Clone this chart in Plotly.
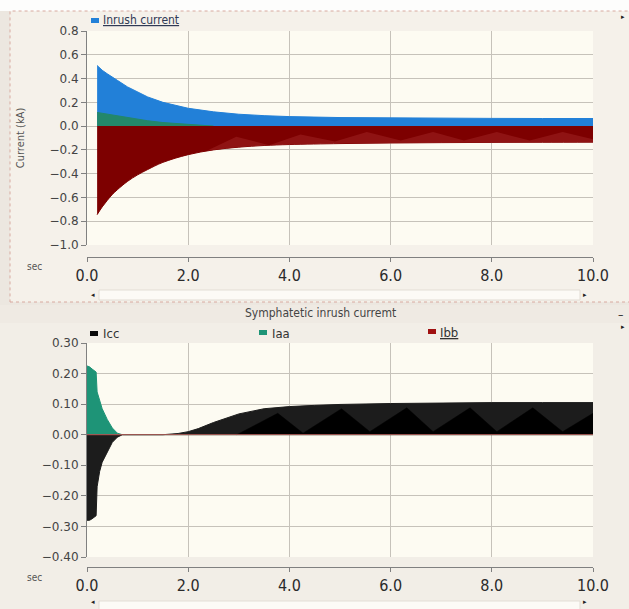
import plotly.graph_objects as go

W, H = 629, 609


def px(x):
    return x / W


def py(y):
    return 1 - y / H


# ---------------- data ----------------
# Top panel: "Inrush current" (envelopes of the oscillating currents, kA)
t_top = [0.2, 0.3, 0.4, 0.5, 0.6, 0.8, 1.0, 1.2, 1.5, 2.0, 2.5, 3.0, 3.5, 4.0,
         5.0, 6.0, 7.0, 8.0, 9.0, 10.0]
inrush_pos = [0.51, 0.47, 0.44, 0.41, 0.385, 0.33, 0.285, 0.245, 0.20, 0.15,
              0.12, 0.10, 0.088, 0.08, 0.072, 0.068, 0.066, 0.065, 0.064, 0.064]
inrush_neg = [-0.745, -0.68, -0.625, -0.575, -0.535, -0.465, -0.41, -0.365,
              -0.305, -0.24, -0.2, -0.177, -0.163, -0.155, -0.147, -0.142,
              -0.139, -0.137, -0.136, -0.135]
t_green = [0.2, 0.4, 0.6, 0.8, 1.0, 1.2, 1.5, 2.0, 2.5]
green_pos = [0.115, 0.10, 0.085, 0.07, 0.055, 0.045, 0.03, 0.015, 0.0]
# lighter beat pattern inside the negative envelope
t_beat_top = [2.4, 2.95, 3.6, 4.22, 4.9, 5.53, 6.2, 6.84, 7.45, 8.1, 8.75, 9.4, 10.0]
beat_top_hi = [-0.2, -0.09, -0.16, -0.07, -0.13, -0.05, -0.12, -0.05, -0.12,
               -0.05, -0.12, -0.05, -0.11]
beat_top_lo = [-0.205, -0.178, -0.161, -0.153, -0.147, -0.143, -0.141, -0.139,
               -0.138, -0.137, -0.136, -0.135, -0.135]

# Bottom panel: "Symphatetic inrush curremt"
t_icc = [0.0, 0.05, 0.1, 0.18, 0.2, 0.25, 0.3, 0.4, 0.5, 0.6, 0.7, 1.5, 1.8,
         2.0, 2.2, 2.5, 2.8, 3.0, 3.5, 4.0, 4.5, 5.0, 6.0, 7.0, 8.0, 9.0, 10.0]
icc = [-0.28, -0.28, -0.275, -0.265, -0.17, -0.12, -0.09, -0.055, -0.025,
       -0.008, 0.0, 0.0, 0.004, 0.01, 0.02, 0.04, 0.058, 0.068, 0.085, 0.092,
       0.096, 0.099, 0.102, 0.104, 0.105, 0.105, 0.105]
t_icc_beat = [2.96, 3.77, 4.27, 5.03, 5.59, 6.32, 6.84, 7.57, 8.10, 8.81, 9.40, 10.0]
icc_beat = [0.0, 0.07, 0.005, 0.085, 0.01, 0.088, 0.01, 0.088, 0.01, 0.088,
            0.01, 0.07]
t_iaa = [0.0, 0.05, 0.1, 0.15, 0.18, 0.2, 0.22, 0.3, 0.4, 0.5, 0.6, 0.7, 10.0]
iaa = [0.225, 0.222, 0.215, 0.21, 0.205, 0.14, 0.13, 0.085, 0.05, 0.022,
       0.005, 0.0, 0.0]
t_ibb = [0.0, 10.0]
ibb = [0.0, 0.0]

x_ticks = [0, 2, 4, 6, 8, 10]
x_ticktext = ["0.0", "2.0", "4.0", "6.0", "8.0", "10.0"]

# ---------------- colours ----------------
BLUE = "#2280d8"
GREEN = "#23876a"
DRED = "#7d0000"
TEAL = "#1e9477"
BLACK = "#0a0a0a"
GRID = "#c6c2ba"
AXL = "#808080"
PLOTBG = "#fdfbf2"
FONT = "DejaVu Sans"
FONTC = "DejaVu Sans Condensed, DejaVu Sans"

fig = go.Figure()

# top panel traces
fig.add_trace(go.Scatter(x=t_top, y=inrush_pos, mode="lines", fill="tozeroy",
                         line=dict(color=BLUE, width=1), fillcolor=BLUE,
                         name="Inrush current", xaxis="x", yaxis="y",
                         showlegend=False))
fig.add_trace(go.Scatter(x=t_green, y=green_pos, mode="lines", fill="tozeroy",
                         line=dict(color=GREEN, width=1), fillcolor=GREEN,
                         name="Iaa", xaxis="x", yaxis="y", showlegend=False))
fig.add_trace(go.Scatter(x=t_top, y=inrush_neg, mode="lines", fill="tozeroy",
                         line=dict(color=DRED, width=1, shape="spline"),
                         fillcolor=DRED,
                         name="Ibb", xaxis="x", yaxis="y", showlegend=False))
fig.add_trace(go.Scatter(x=t_beat_top + t_beat_top[::-1],
                         y=beat_top_hi + beat_top_lo[::-1], mode="lines",
                         fill="toself", line=dict(width=0),
                         fillcolor="rgba(185,60,60,0.32)", xaxis="x", yaxis="y",
                         showlegend=False, hoverinfo="skip"))

# bottom panel traces
fig.add_trace(go.Scatter(x=t_icc, y=icc, mode="lines", fill="tozeroy",
                         line=dict(color="#1c1c1c", width=1), fillcolor="#1c1c1c",
                         name="Icc", xaxis="x2", yaxis="y2", showlegend=False))
fig.add_trace(go.Scatter(x=t_icc_beat, y=icc_beat, mode="lines", fill="tozeroy",
                         line=dict(color="#000000", width=0.5), fillcolor="#000000",
                         xaxis="x2", yaxis="y2", showlegend=False, hoverinfo="skip"))
fig.add_trace(go.Scatter(x=t_iaa, y=iaa, mode="lines", fill="tozeroy",
                         line=dict(color=TEAL, width=1), fillcolor=TEAL,
                         name="Iaa", xaxis="x2", yaxis="y2", showlegend=False))
fig.add_trace(go.Scatter(x=t_ibb, y=ibb, mode="lines",
                         line=dict(color="#b84a4a", width=1),
                         name="Ibb", xaxis="x2", yaxis="y2", showlegend=False))

xdom = [px(87), px(593)]
common_x = dict(domain=xdom, range=[0, 10], tickvals=x_ticks, ticktext=x_ticktext,
                showgrid=True, gridcolor=GRID, gridwidth=1, zeroline=False,
                showline=True, linecolor=AXL, linewidth=1, ticks="outside",
                ticklen=4, tickcolor=AXL, anchor="free", automargin=False,
                tickfont=dict(family=FONTC, size=16, color="#2a2a2a"))
common_y = dict(showgrid=True, gridcolor=GRID, gridwidth=1, zeroline=False,
                showline=True, linecolor=AXL, linewidth=1, ticks="outside",
                ticklen=5, tickcolor=AXL, automargin=False,
                tickfont=dict(family=FONT, size=12, color="#444444"))

fig.update_layout(
    width=W, height=H,
    margin=dict(l=0, r=0, t=0, b=0, autoexpand=False),
    paper_bgcolor="#ece7e0",
    plot_bgcolor=PLOTBG,
    showlegend=False,
    xaxis=dict(**common_x, position=py(257)),
    yaxis=dict(**common_y, domain=[py(245), py(31)], range=[-1.0, 0.8],
               dtick=0.2, tick0=0, tickformat=".1f", anchor="x",
               title=dict(text="Current (kA)", standoff=22,
                          font=dict(family=FONTC, size=11, color="#555555"))),
    xaxis2=dict(**common_x, position=py(567)),
    yaxis2=dict(**common_y, domain=[py(557), py(343)], range=[-0.4, 0.3],
                dtick=0.1, tick0=0, tickformat=".2f", anchor="x2"),
)

shapes = []
# white strip at the very top
shapes.append(dict(type="rect", xref="paper", yref="paper", x0=0, x1=1,
                   y0=py(11), y1=1, fillcolor="#fdfdfc", line=dict(width=0),
                   layer="below"))
# top panel background with dotted border
shapes.append(dict(type="rect", xref="paper", yref="paper", x0=px(10), x1=1.01,
                   y0=py(302), y1=py(11), fillcolor="#f5f1ea",
                   line=dict(color="#d8aaa0", width=1, dash="dot"), layer="below"))
# bottom title bar + panel
shapes.append(dict(type="rect", xref="paper", yref="paper", x0=0, x1=1,
                   y0=py(323), y1=py(305), fillcolor="#efeae3",
                   line=dict(width=0), layer="below"))
shapes.append(dict(type="rect", xref="paper", yref="paper", x0=0, x1=1,
                   y0=0, y1=py(323), fillcolor="#f2eee7",
                   line=dict(width=0), layer="below"))
# plot-area backgrounds (cream)
for (y0, y1) in [(31, 245), (343, 557)]:
    shapes.append(dict(type="rect", xref="paper", yref="paper", x0=px(87),
                       x1=px(593), y0=py(y1), y1=py(y0), fillcolor=PLOTBG,
                       line=dict(width=0), layer="below"))
# scrollbars
for y0, y1 in [(290, 300), (601, 612)]:
    shapes.append(dict(type="rect", xref="paper", yref="paper", x0=px(99),
                       x1=px(580), y0=py(y1), y1=py(y0), fillcolor="#fcfaf6",
                       line=dict(color="#e2ddd5", width=1), layer="below"))
# legend swatches
for (x0, x1, y0, y1, c) in [(91, 99, 18, 23, BLUE), (90, 98, 331, 336, BLACK),
                            (259, 267, 330, 335, TEAL), (428, 436, 329, 334, "#a01010")]:
    shapes.append(dict(type="rect", xref="paper", yref="paper", x0=px(x0),
                       x1=px(x1), y0=py(y1), y1=py(y0), fillcolor=c,
                       line=dict(width=0)))
fig.update_layout(shapes=shapes)

ann = []


def txt(x, y, s, size=12, color="#333333", xanchor="left", family=FONTC):
    ann.append(dict(x=px(x), y=py(y), xref="paper", yref="paper", text=s,
                    showarrow=False, xanchor=xanchor, yanchor="middle",
                    font=dict(family=family, size=size, color=color)))


txt(101, 20, "<u>Inrush current</u>", 12, "#2f3a55")
txt(101, 333, "Icc", 13, "#333333")
txt(270, 333, "Iaa", 13, "#333333")
txt(438, 332, "<u>Ibb</u>", 13, "#333333")
txt(320, 313, "Symphatetic inrush curremt", 12, "#444444", "center")
txt(34, 266, "sec", 10, "#555555", "center")
txt(34, 577, "sec", 10, "#555555", "center")
txt(620, 315, "–", 12, "#333333", "center")
for (x, y, s) in [(93, 295, "◂"), (585, 295, "▸"), (93, 602, "◂"), (585, 602, "▸"),
                  (623, 17, "▸"), (623, 327, "▸")]:
    txt(x, y, s, 7, "#222222", "center", FONT)
fig.update_layout(annotations=ann)

fig.write_html(
    "out.html",
    config={"displayModeBar": False},
    post_script=("document.body.style.margin='0';"
                 "document.body.style.padding='0';"
                 "document.body.style.overflow='hidden';"
                 "document.body.style.background='#ece7e0';"),
)
